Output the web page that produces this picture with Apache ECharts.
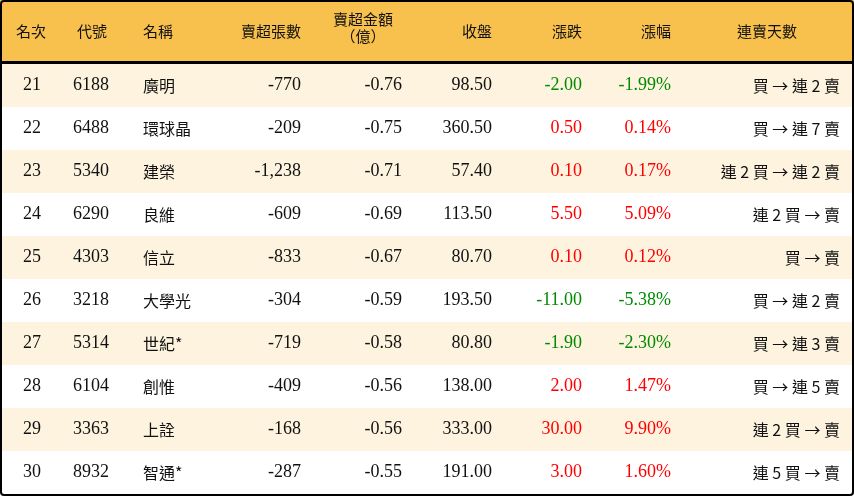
<!DOCTYPE html>
<html lang="zh-Hant">
<head>
<meta charset="UTF-8">
<title>賣超排行</title>
<style>
html,body{margin:0;padding:0;width:100%;height:100%;background:#fff;}
#chart{width:854px;height:496px;}
</style>
<script src="https://cdn.jsdelivr.net/npm/echarts@6/dist/echarts.min.js"></script>
</head>
<body>
<div id="chart"></div>
<script>
const headers = ['名次', '代號', '名稱', '賣超張數', '賣超金額\n（億）', '收盤', '漲跌', '漲幅', '連賣天數'];
const ranks = ['21', '22', '23', '24', '25', '26', '27', '28', '29', '30'];
const codes = ['6188', '6488', '5340', '6290', '4303', '3218', '5314', '6104', '3363', '8932'];
const names = ['廣明', '環球晶', '建榮', '良維', '信立', '大學光', '世紀*', '創惟', '上詮', '智通*'];
const sellLots = ['-770', '-209', '-1,238', '-609', '-833', '-304', '-719', '-409', '-168', '-287'];
const sellAmount = ['-0.76', '-0.75', '-0.71', '-0.69', '-0.67', '-0.59', '-0.58', '-0.56', '-0.56', '-0.55'];
const closes = ['98.50', '360.50', '57.40', '113.50', '80.70', '193.50', '80.80', '138.00', '333.00', '191.00'];
const changes = [-2.00, 0.50, 0.10, 5.50, 0.10, -11.00, -1.90, 2.00, 30.00, 3.00];
const pcts = [-1.99, 0.14, 0.17, 5.09, 0.12, -5.38, -2.30, 1.47, 9.90, 1.60];
const streaks = ['買 → 連 2 賣', '買 → 連 7 賣', '連 2 買 → 連 2 賣', '連 2 買 → 賣', '買 → 賣',
                 '買 → 連 2 賣', '買 → 連 3 賣', '買 → 連 5 賣', '連 2 買 → 賣', '連 5 買 → 賣'];

// column anchors: [x, align]
const cols = [[32, 'center'], [73, 'left'], [143, 'left'], [301, 'right'], [402, 'right'],
              [492, 'right'], [582, 'right'], [671, 'right'], [840, 'right']];
const headX = [31, 92, 143, 301, 363, 492, 582, 671, 767];
const headAlign = ['center', 'center', 'left', 'right', 'center', 'right', 'right', 'right', 'center'];

const numFont = '"Liberation Serif", "Noto Sans CJK TC", serif';
const cjkFont = '"Noto Sans CJK TC", serif';

let chart = echarts.init(document.getElementById('chart'));

let rows = ranks.map((r, i) => [i]);

chart.setOption({
    animation: false,
    grid: {left: 0, right: 0, top: 64, bottom: 2},
    xAxis: {type: 'value', min: 0, max: 854, show: false},
    yAxis: {type: 'category', data: ranks, inverse: true, show: false},
    graphic: [
        {type: 'rect', shape: {x: 0, y: 0, width: 854, height: 62}, style: {fill: '#F8C14D'}, z: 1},
        {type: 'rect', shape: {x: 0, y: 61, width: 854, height: 3}, style: {fill: '#000'}, z: 5}
    ].concat(headers.map((h, i) => ({
        type: 'text', z: 6,
        x: headX[i], y: h.includes('\n') ? 28 : 31,
        style: {
            text: h, fill: '#111', font: '15px ' + cjkFont,
            align: headAlign[i], verticalAlign: 'middle', lineHeight: 17
        }
    }))).concat([
        {type: 'rect', shape: {x: 1, y: 1, width: 852, height: 494, r: 3},
         style: {fill: null, stroke: '#000', lineWidth: 2}, z: 10}
    ]),
    series: [{
        type: 'custom',
        data: rows,
        renderItem: function (params, api) {
            let i = api.value(0);
            let p = api.coord([0, i]);
            let h = api.size([0, 1])[1];
            let children = [{
                type: 'rect',
                shape: {x: 0, y: p[1] - h / 2, width: 854, height: h},
                style: {fill: i % 2 === 0 ? '#FDF3DF' : '#FFFFFF'}
            }];
            let color = changes[i] < 0 ? '#008A00' : '#FF0000';
            let texts = [ranks[i], codes[i], names[i], sellLots[i], sellAmount[i], closes[i],
                changes[i].toFixed(2), pcts[i].toFixed(2) + '%', streaks[i]];
            texts.forEach((t, c) => {
                let cjk = c === 2 || c === 8;
                children.push({
                    type: 'text',
                    x: cols[c][0], y: p[1],
                    style: {
                        text: t,
                        fill: (c === 6 || c === 7) ? color : '#111',
                        font: (cjk ? '16px ' + cjkFont : '18px ' + numFont),
                        align: cols[c][1], verticalAlign: 'middle'
                    }
                });
            });
            return {type: 'group', children: children};
        }
    }]
});
</script>
</body>
</html>
